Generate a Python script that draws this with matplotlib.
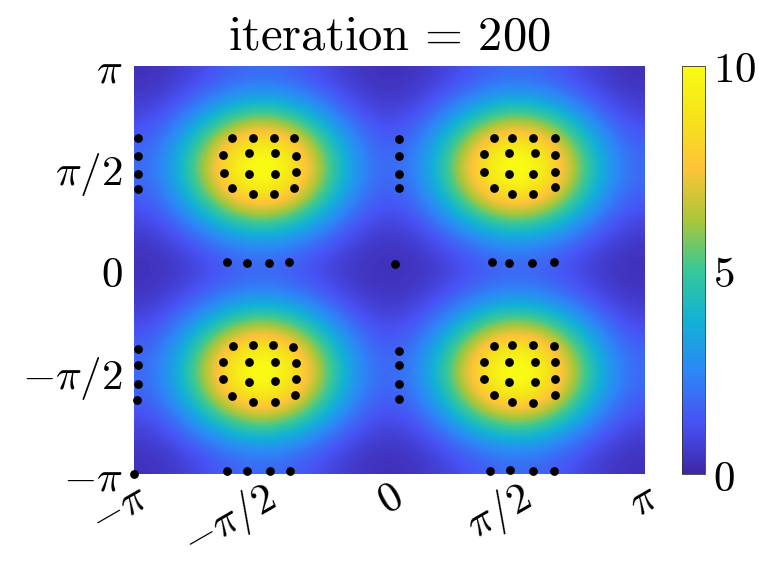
import numpy as np
import matplotlib
matplotlib.use("Agg")
import matplotlib.pyplot as plt
from matplotlib.colors import LinearSegmentedColormap

plt.rcParams["mathtext.fontset"] = "cm"
plt.rcParams["font.family"] = "serif"
plt.rcParams["font.serif"] = ["DejaVu Serif"]

# surface: gaussian bumps of height 10 centred at (+-pi/2, +-pi/2), periodic
peak_value = 10.0
peak_centres = [-np.pi / 2, np.pi / 2]
sigma = 0.72
grid_n = 400

# particle positions (x, y)
dots_x = [
    # top-left cluster
    -1.93, -1.68, -1.42, -1.17, -2.04, -1.73, -1.41, -1.15,
    -2.03, -1.72, -1.41, -1.15, -1.93, -1.68, -1.42, -1.17,
    -3.09, -3.09, -3.09, -3.09,
    # top-right cluster
    1.29, 1.52, 1.78, 2.05, 1.17, 1.48, 1.80, 2.05,
    1.17, 1.48, 1.78, 2.05, 1.29, 1.52, 1.78, 2.05,
    0.12, 0.12, 0.12, 0.12,
    # bottom-left cluster
    -1.92, -1.67, -1.43, -1.18, -2.04, -1.72, -1.41, -1.15,
    -2.04, -1.72, -1.41, -1.15, -1.93, -1.68, -1.41, -1.16,
    -3.09, -3.09, -3.09, -3.10,
    # bottom-right cluster
    1.29, 1.52, 1.77, 2.03, 1.17, 1.48, 1.80, 2.05,
    1.17, 1.48, 1.80, 2.05, 1.29, 1.51, 1.77, 2.05,
    0.12, 0.12, 0.12, 0.12,
    # y = 0 row
    -2.00, -1.75, -1.48, -1.23, 0.08, 1.27, 1.48, 1.76, 2.03,
    # bottom row
    -3.14, -2.00, -1.75, -1.47, -1.22, 1.25, 1.49, 1.77, 2.03,
]
dots_y = [
    2.04, 2.04, 2.04, 2.03, 1.77, 1.80, 1.80, 1.76,
    1.50, 1.48, 1.48, 1.51, 1.27, 1.17, 1.17, 1.27,
    2.03, 1.76, 1.48, 1.25,
    2.04, 2.04, 2.04, 2.04, 1.78, 1.80, 1.80, 1.77,
    1.51, 1.48, 1.48, 1.51, 1.27, 1.17, 1.17, 1.28,
    2.02, 1.75, 1.48, 1.26,
    -1.17, -1.16, -1.16, -1.19, -1.41, -1.41, -1.41, -1.43,
    -1.68, -1.73, -1.71, -1.68, -1.94, -2.04, -2.04, -1.92,
    -1.22, -1.46, -1.75, -2.00,
    -1.17, -1.16, -1.16, -1.17, -1.41, -1.41, -1.41, -1.42,
    -1.68, -1.73, -1.73, -1.68, -1.93, -2.04, -2.05, -1.93,
    -1.24, -1.47, -1.75, -1.99,
    0.12, 0.11, 0.11, 0.13, 0.09, 0.12, 0.11, 0.11, 0.13,
    -3.14, -3.09, -3.09, -3.09, -3.09, -3.09, -3.08, -3.09, -3.09,
]

tick_vals = [-np.pi, -np.pi / 2, 0, np.pi / 2, np.pi]
tick_labels = [r"$-\pi$", r"$-\pi/2$", r"$0$", r"$\pi/2$", r"$\pi$"]
cbar_ticks = [0, 5, 10]

# approximate MATLAB parula
parula_pts = [
    (0.2422, 0.1504, 0.6603), (0.2810, 0.3228, 0.9579), (0.1786, 0.5289, 0.9682),
    (0.0689, 0.6948, 0.8394), (0.2161, 0.7843, 0.5923), (0.6720, 0.7793, 0.2227),
    (0.9970, 0.7659, 0.2199), (0.9594, 0.8888, 0.1038), (0.9769, 0.9839, 0.0805),
]
parula = LinearSegmentedColormap.from_list("parula", parula_pts, N=256)

xs = np.linspace(-np.pi, np.pi, grid_n)
X, Y = np.meshgrid(xs, xs)
Z = np.zeros_like(X)
for cx in peak_centres:
    for cy in peak_centres:
        for kx in (-2, -1, 0, 1, 2):
            for ky in (-2, -1, 0, 1, 2):
                d2 = (X - cx - 2 * np.pi * kx) ** 2 + (Y - cy - 2 * np.pi * ky) ** 2
                Z += peak_value * np.exp(-d2 / (2 * sigma ** 2))

fig = plt.figure(figsize=(7.59, 5.67), dpi=100)
ax = fig.add_axes([0.1765, 0.164, 0.672, 0.7196])
cax = fig.add_axes([0.8986, 0.164, 0.0303, 0.7196])

im = ax.imshow(Z, extent=[-np.pi, np.pi, -np.pi, np.pi], origin="lower",
               cmap=parula, vmin=0, vmax=10, aspect="auto", interpolation="bilinear")
ax.scatter(dots_x, dots_y, s=40, c="black", zorder=3, clip_on=False, linewidths=0)

ax.set_xlim(-np.pi, np.pi)
ax.set_ylim(-np.pi, np.pi)
ax.set_xticks(tick_vals)
ax.set_yticks(tick_vals)
ax.set_yticklabels(tick_labels, fontsize=31)
ax.set_xticklabels(tick_labels, fontsize=31, rotation=30, rotation_mode="anchor",
                   ha="right", va="top")
ax.tick_params(axis="y", length=0, pad=8)
ax.tick_params(axis="x", length=0, pad=1)
for s in ax.spines.values():
    s.set_visible(False)
ax.set_title(r"$\mathrm{iteration}\,=\,200$", fontsize=35, pad=12)

cb = fig.colorbar(im, cax=cax, ticks=cbar_ticks)
cb.ax.set_yticklabels([r"$%d$" % t for t in cbar_ticks], fontsize=31)
cb.ax.tick_params(length=0, pad=6)
cb.outline.set_linewidth(0.6)
cb.outline.set_edgecolor("#333333")

plt.savefig("out.png", dpi=100)
